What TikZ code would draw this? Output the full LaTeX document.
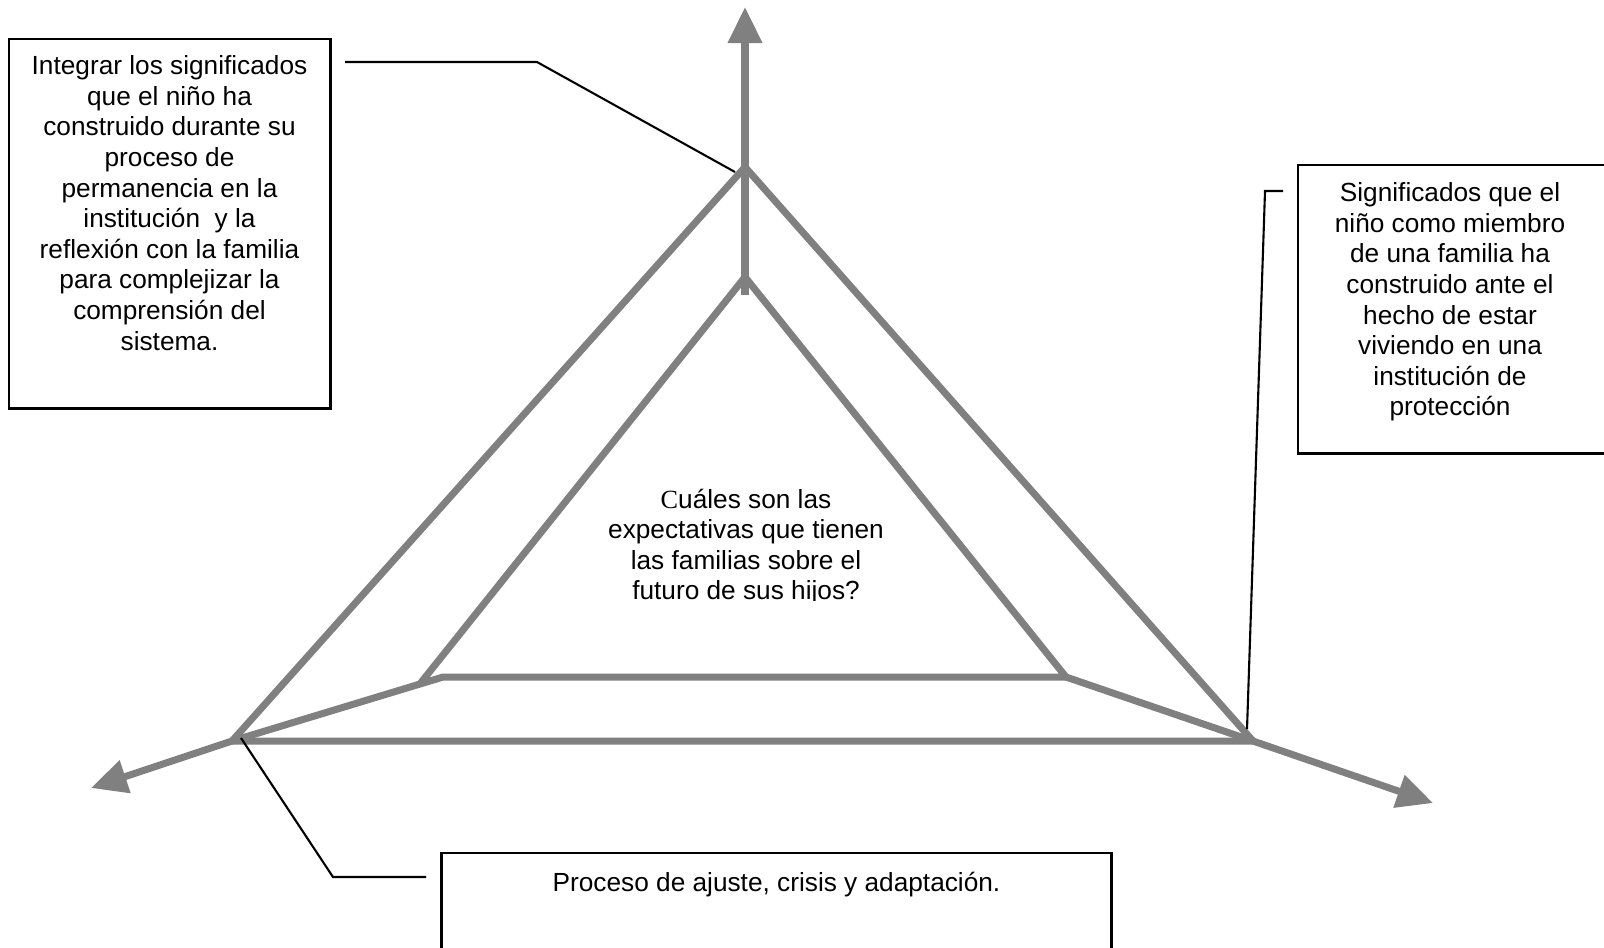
\documentclass[tikz,border=0pt]{standalone}
\usepackage{fontspec}
\setmainfont{Liberation Sans}
\newfontfamily\tnr{Liberation Serif}
\usepackage{tikz}
\usetikzlibrary{arrows.meta,calc,positioning}
\definecolor{axisgray}{RGB}{128,128,128}

\begin{document}
\begin{tikzpicture}[x=0.01cm, y=-0.01cm,
    axis/.style = {draw=axisgray, line width=2pt},
    tip/.style = {-{Triangle[length=3.6mm, width=3.3mm]}},
    leader/.style = {draw=black, line width=0.6pt},
    box/.style = {draw, line width=0.8pt, rectangle, inner sep=0pt},
    txt/.style = {align=center, inner sep=0pt, font=\fontsize{7.46}{8.7}\selectfont}]
    \clip (0,0) rectangle (1604,947);
    % triangle corners
    \coordinate (top) at (745,167);
    \coordinate (bl) at (232,741);
    \coordinate (br) at (1253,741);
    \coordinate (itop) at (745,277);
    \coordinate (il) at (443,677);
    \coordinate (ir) at (1066,677);
    \coordinate (shaft) at (745,295);
    \coordinate (tipN) at (745,7);
    \coordinate (tipW) at (91,788);
    \coordinate (tipE) at (1433,803);
    % boxes
    \node[box, minimum width=3.21cm, minimum height=3.69cm] (goal) at (169.5,223.5) {};
    \node[txt, anchor=north] (goaltxt) at (169.5,55) {Integrar los significados\\que el niño ha\\construido durante su\\proceso de\\permanencia en la\\institución~ y la\\reflexión con la familia\\para complejizar la\\comprensión del\\sistema.};
    \node[box, minimum width=3.22cm, minimum height=2.88cm] (meaning) at (1459,309) {};
    \node[txt, anchor=north] (meaningtxt) at (1450,182) {Significados que el\\niño como miembro\\de una familia ha\\construido ante el\\hecho de estar\\viviendo en una\\institución de\\protección};
    \node[box, minimum width=6.69cm, minimum height=1.27cm] (process) at (776.5,916.5) {};
    \node[txt, anchor=north] (processtxt) at (776.5,871) {Proceso de ajuste, crisis y adaptación.};
    \begin{scope}
        \clip (590,480) rectangle (910,600);
        \node[txt, anchor=north] (question) at (746,488) {{\tnr C}uáles son las\\expectativas que tienen\\las familias sobre el\\futuro de sus hijos?};
    \end{scope}
    % gray frame
    \draw[axis] (top) -- (bl) -- (br) -- cycle;
    \draw[axis] ($(bl)!0.89!(il)$) -- (itop) -- (ir) -- (il) -- (bl);
    \draw[axis] (ir) -- (br);
    \draw[axis, tip] (shaft) -- (tipN);
    \draw[axis, tip] (bl) -- (tipW);
    \draw[axis, tip] (br) -- (tipE);
    % leaders
    \coordinate (g1) at (345,62);
    \coordinate (g2) at (537,62);
    \coordinate (g3) at (735,172);
    \draw[leader] (g1) -- (g2) -- (g3);
    \coordinate (m1) at (1283,191);
    \coordinate (m2) at (1265,191);
    \coordinate (m3) at (1247,729);
    \draw[leader] (m1) -- (m2) -- (m3);
    \coordinate (p1) at (426,877);
    \coordinate (p2) at (333,877);
    \coordinate (p3) at (241,738);
    \draw[leader] (p1) -- (p2) -- (p3);
\end{tikzpicture}
\end{document}
